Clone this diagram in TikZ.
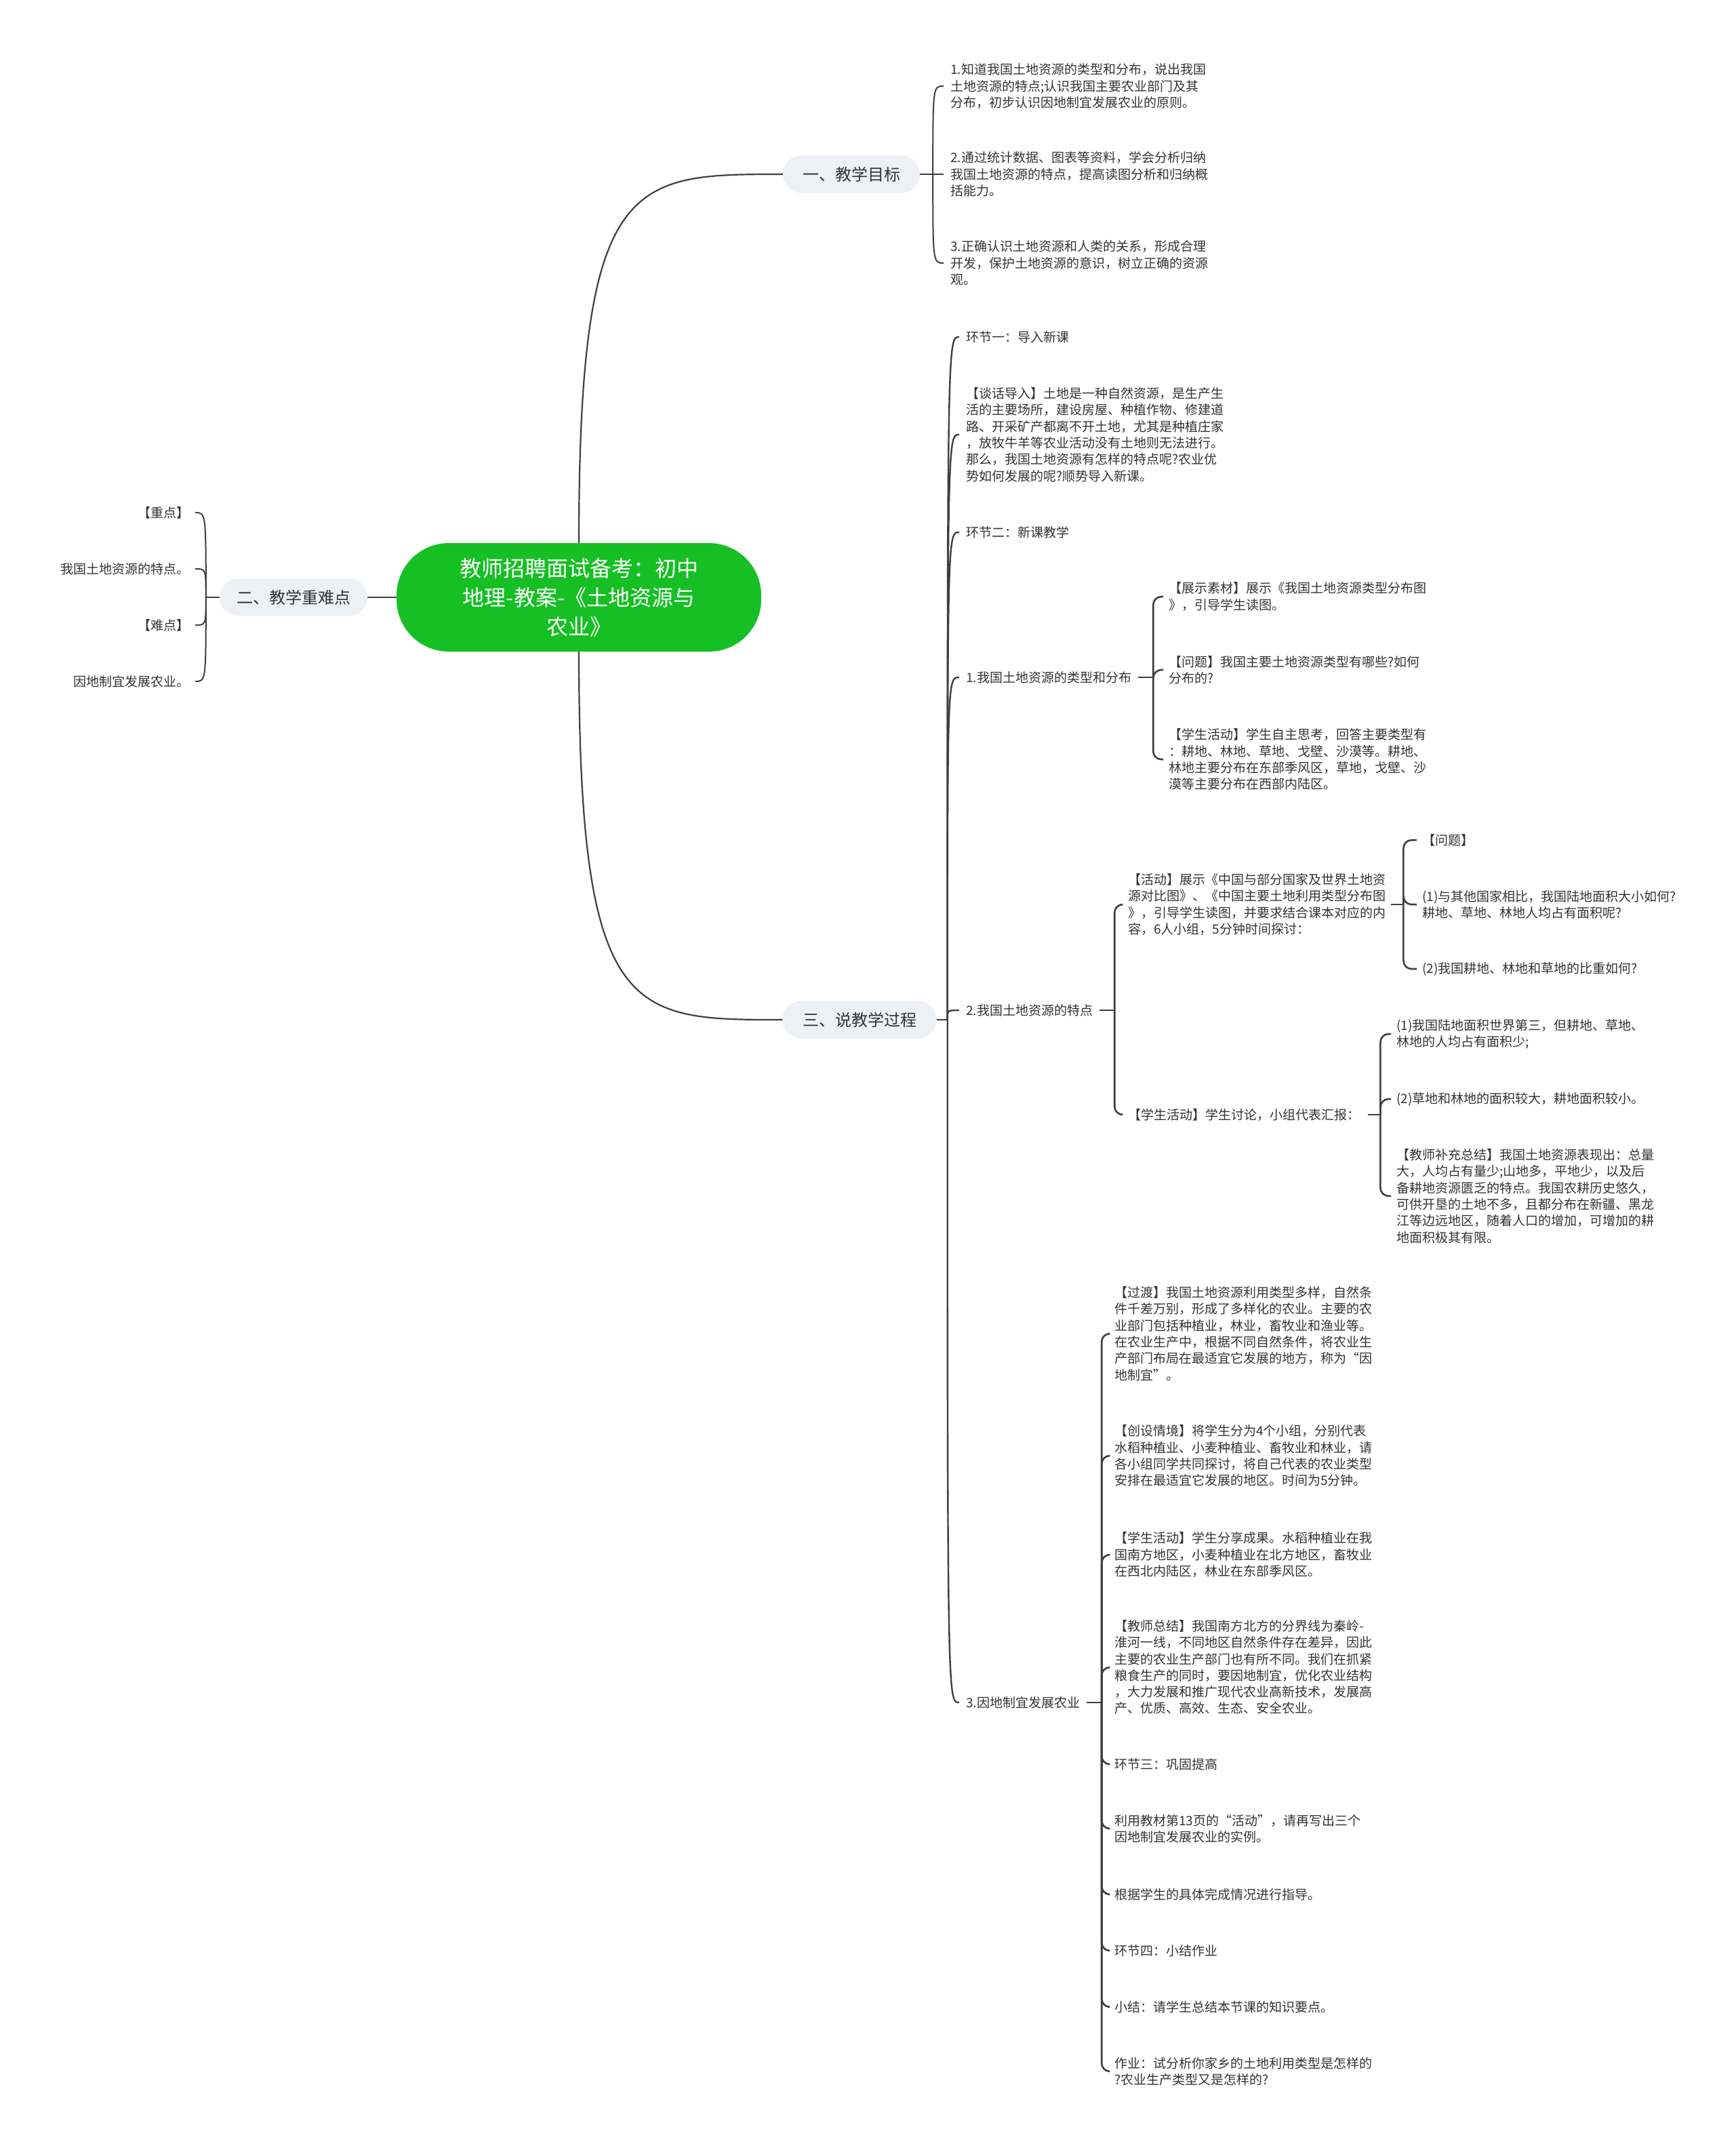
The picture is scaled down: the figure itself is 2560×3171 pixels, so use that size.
\documentclass[tikz,border=0pt]{standalone}
\usepackage{fontspec}
\setmainfont{Noto Sans CJK SC}
\usetikzlibrary{calc}
\definecolor{rootgreen}{RGB}{22,192,36}
\definecolor{lvlfill}{HTML}{EDF0F4}
\definecolor{txt}{HTML}{333333}
\definecolor{ln}{HTML}{3F3F3F}
\newcommand\leaffont{\fontsize{19}{24.3}\selectfont}
\begin{document}
\begin{tikzpicture}[x=1pt,y=-1pt,
  rootnode/.style={fill=rootgreen, rounded corners=77pt, minimum width=538pt, minimum height=160pt,
    text=white, font=\fontsize{32}{43}\selectfont, align=center, inner sep=0pt},
  lvlnode/.style={fill=lvlfill, rounded corners=27pt, minimum height=55pt, inner xsep=0pt, inner ysep=0pt,
    text=txt, font=\fontsize{24}{28}\selectfont},
  leaf/.style={anchor=west, align=left, inner sep=0pt, text=txt, font=\leaffont},
  leafr/.style={anchor=east, align=right, inner sep=0pt, text=txt, font=\leaffont},
  curve/.style={draw=ln, line width=2pt},
  brk/.style={draw=ln, line width=2.6pt, rounded corners=12pt}]
\useasboundingbox (0,0) rectangle (2560,3171);
\fill[white] (0,0) rectangle (2560,3171);

% root and level 1
\node[rootnode] (root) at (854,881) {教师招聘面试备考：初中\\地理-教案-《土地资源与\\农业》};
\node[lvlnode, minimum width=202pt] (g1) at (1256,257) {一、教学目标};
\node[lvlnode, minimum width=218pt] (g2) at (433,881) {二、教学重难点};
\node[lvlnode, minimum width=227pt] (g3) at (1268,1504) {三、说教学过程};

% 一 children
\node[leaf] (a1) at (1402,127) {1.知道我国土地资源的类型和分布，说出我国\\土地资源的特点;认识我国主要农业部门及其\\分布，初步认识因地制宜发展农业的原则。};
\node[leaf] (a2) at (1402,257) {2.通过统计数据、图表等资料，学会分析归纳\\我国土地资源的特点，提高读图分析和归纳概\\括能力。};
\node[leaf] (a3) at (1402,388) {3.正确认识土地资源和人类的关系，形成合理\\开发，保护土地资源的意识，树立正确的资源\\观。};

% 二 children
\node[leafr] (b1) at (280,756) {【重点】};
\node[leafr] (b2) at (280,839) {我国土地资源的特点。};
\node[leafr] (b3) at (280,922) {【难点】};
\node[leafr] (b4) at (280,1005) {因地制宜发展农业。};

% 三 children
\node[leaf] (c1) at (1425,497) {环节一：导入新课};
\node[leaf] (c2) at (1425,641) {【谈话导入】土地是一种自然资源，是生产生\\活的主要场所，建设房屋、种植作物、修建道\\路、开采矿产都离不开土地，尤其是种植庄家\\，放牧牛羊等农业活动没有土地则无法进行。\\那么，我国土地资源有怎样的特点呢?农业优\\势如何发展的呢?顺势导入新课。};
\node[leaf] (c3) at (1425,785) {环节二：新课教学};
\node[leaf] (c4) at (1425,999) {1.我国土地资源的类型和分布};
\node[leaf] (c5) at (1425,1490) {2.我国土地资源的特点};
\node[leaf] (c6) at (1425,2511) {3.因地制宜发展农业};

% 1. children
\node[leaf] (d1) at (1724,880) {【展示素材】展示《我国土地资源类型分布图\\》，引导学生读图。};
\node[leaf] (d2) at (1724,988) {【问题】我国主要土地资源类型有哪些?如何\\分布的?};
\node[leaf] (d3) at (1724,1120) {【学生活动】学生自主思考，回答主要类型有\\：耕地、林地、草地、戈壁、沙漠等。耕地、\\林地主要分布在东部季风区，草地，戈壁、沙\\漠等主要分布在西部内陆区。};

% 2. children
\node[leaf] (e1) at (1664,1334) {【活动】展示《中国与部分国家及世界土地资\\源对比图》、《中国主要土地利用类型分布图\\》，引导学生读图，并要求结合课本对应的内\\容，6人小组，5分钟时间探讨：};
\node[leaf] (e2) at (1664,1644) {【学生活动】学生讨论，小组代表汇报：};

\node[leaf] (f1) at (2098,1239) {【问题】};
\node[leaf] (f2) at (2098,1334) {(1)与其他国家相比，我国陆地面积大小如何?\\耕地、草地、林地人均占有面积呢?};
\node[leaf] (f3) at (2098,1429) {(2)我国耕地、林地和草地的比重如何?};

\node[leaf] (h1) at (2060,1525) {(1)我国陆地面积世界第三，但耕地、草地、\\林地的人均占有面积少;};
\node[leaf] (h2) at (2060,1621) {(2)草地和林地的面积较大，耕地面积较小。};
\node[leaf] (h3) at (2060,1764) {【教师补充总结】我国土地资源表现出：总量\\大，人均占有量少;山地多，平地少，以及后\\备耕地资源匮乏的特点。我国农耕历史悠久，\\可供开垦的土地不多，且都分布在新疆、黑龙\\江等边远地区，随着人口的增加，可增加的耕\\地面积极其有限。};

% 3. children
\node[leaf] (k1) at (1644,1967) {【过渡】我国土地资源利用类型多样，自然条\\件千差万别，形成了多样化的农业。主要的农\\业部门包括种植业，林业，畜牧业和渔业等。\\在农业生产中，根据不同自然条件，将农业生\\产部门布局在最适宜它发展的地方，称为“因\\地制宜”。};
\node[leaf] (k2) at (1644,2147) {【创设情境】将学生分为4个小组，分别代表\\水稻种植业、小麦种植业、畜牧业和林业，请\\各小组同学共同探讨，将自己代表的农业类型\\安排在最适宜它发展的地区。时间为5分钟。};
\node[leaf] (k3) at (1644,2293) {【学生活动】学生分享成果。水稻种植业在我\\国南方地区，小麦种植业在北方地区，畜牧业\\在西北内陆区，林业在东部季风区。};
\node[leaf] (k4) at (1644,2459) {【教师总结】我国南方北方的分界线为秦岭-\\淮河一线，不同地区自然条件存在差异，因此\\主要的农业生产部门也有所不同。我们在抓紧\\粮食生产的同时，要因地制宜，优化农业结构\\，大力发展和推广现代农业高新技术，发展高\\产、优质、高效、生态、安全农业。};
\node[leaf] (k5) at (1644,2602) {环节三：巩固提高};
\node[leaf] (k6) at (1644,2697) {利用教材第13页的“活动”，请再写出三个\\因地制宜发展农业的实例。};
\node[leaf] (k7) at (1644,2794) {根据学生的具体完成情况进行指导。};
\node[leaf] (k8) at (1644,2877) {环节四：小结作业};
\node[leaf] (k9) at (1644,2960) {小结：请学生总结本节课的知识要点。};
\node[leaf] (k10) at (1644,3055) {作业：试分析你家乡的土地利用类型是怎样的\\?农业生产类型又是怎样的?};

% root connectors
\draw[curve, line width=2.2pt] (root.north) .. controls (root.north |- g1.west) and ([xshift=76pt]root.north |- g1.west) .. (g1.west);
\draw[curve, line width=2.2pt] (root.south) .. controls (root.south |- g3.west) and ([xshift=76pt]root.south |- g3.west) .. (g3.west);
\draw[curve, line width=2.6pt] (root.west) -- (g2.east);

% 一 connectors
\draw[curve] (g1.east) -- ++(19,0) coordinate (j1);
\foreach \n in {a1,a2,a3}
  \draw[curve] (j1) .. controls (j1 |- \n.west) and (j1 |- \n.west) .. ([xshift=-10pt]\n.west);

% 二 connectors
\draw[curve] (g2.west) -- ++(-20,0) coordinate (j2);
\foreach \n in {b1,b2,b3,b4}
  \draw[curve] (j2) .. controls (j2 |- \n.east) and (j2 |- \n.east) .. ([xshift=8pt]\n.east);

% 三 connectors
\draw[curve, line width=2.4pt] (g3.east) -- ++(16,0) coordinate (j3);
\foreach \n in {c1,c2,c3,c4,c5,c6}
  \draw[curve, line width=2.4pt] (j3) .. controls (j3 |- \n.west) and (j3 |- \n.west) .. ([xshift=-10pt]\n.west);

% bracket connectors
\draw[brk] ([xshift=10pt]c4.east) -- ++(22,0) coordinate (jc4);
\foreach \n in {d1,d2,d3}
  \draw[brk] (jc4) |- ([xshift=-8pt]\n.west);

\draw[brk] ([xshift=10pt]c5.east) -- ++(22,0) coordinate (jc5);
\foreach \n in {e1,e2}
  \draw[brk] (jc5) |- ([xshift=-8pt]\n.west);

\draw[brk] ([xshift=8pt]e1.east) -- ++(18,0) coordinate (je1);
\foreach \n in {f1,f2,f3}
  \draw[brk] (je1) |- ([xshift=-8pt]\n.west);

\draw[brk] ([xshift=12pt]e2.east) -- ++(18,0) coordinate (je2);
\foreach \n in {h1,h2,h3}
  \draw[brk] (je2) |- ([xshift=-8pt]\n.west);

\draw[brk] ([xshift=10pt]c6.east) -- ++(22,0) coordinate (jc6);
\foreach \n in {k1,k2,k3,k4,k5,k6,k7,k8,k9,k10}
  \draw[brk] (jc6) |- ([xshift=-8pt]\n.west);
\end{tikzpicture}
\end{document}
